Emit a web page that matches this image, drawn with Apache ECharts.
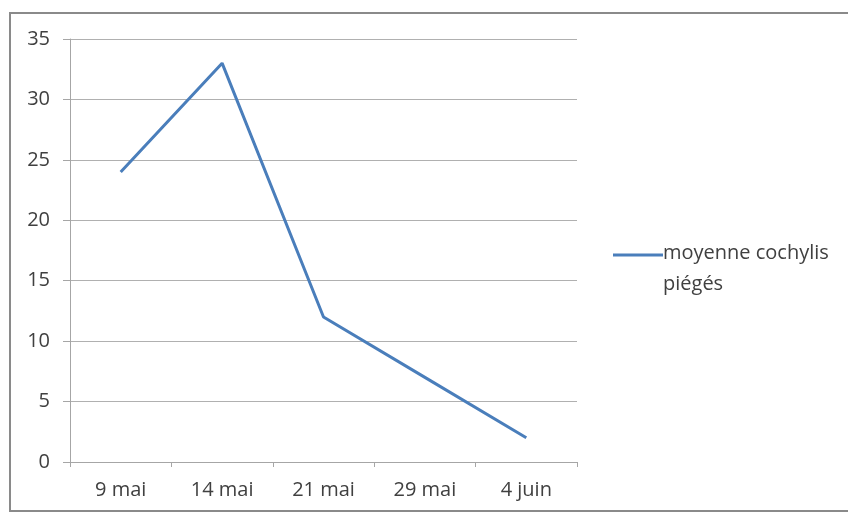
<!DOCTYPE html>
<html><head><meta charset="utf-8">
<script src="https://cdn.jsdelivr.net/npm/echarts@6/dist/echarts.min.js"></script>
<style>html,body{margin:0;padding:0;background:#fff}#c{width:848px;height:515px}</style>
</head><body><div id="c"></div>
<script>
const categories = ['9 mai', '14 mai', '21 mai', '29 mai', '4 juin'];
const seriesName = 'moyenne cochylis\npiégés';
const values = [24, 33, 12, 7, 2];
const yTicks = { min: 0, max: 35, interval: 5 };

const chart = echarts.init(document.getElementById('c'));
const font = 'Open Sans';
chart.setOption({
  animation: false,
  backgroundColor: '#fff',
  graphic: [{
    type: 'rect', shape: { x: 10, y: 13, width: 850, height: 498 },
    style: { fill: 'none', stroke: '#8a8a8a', lineWidth: 2 }, silent: true
  }],
  grid: { left: 70, right: 271, top: 39, bottom: 53, containLabel: false },
  legend: {
    left: 608, top: 233, orient: 'vertical',
    itemWidth: 50, itemHeight: 31,
    icon: 'path://M0,15L50,15L50,18L0,18Z M0,46L0,46',
    itemGap: 0,
    formatter: () => seriesName,
    textStyle: { fontFamily: font, fontSize: 20, color: '#404040', lineHeight: 31, padding: [0, 0, 0, -5] },
    data: [seriesName]
  },
  xAxis: {
    type: 'category', data: categories, boundaryGap: true,
    axisLine: { lineStyle: { color: '#a6a6a6', width: 1 } },
    axisTick: { show: true, length: 5, inside: false, alignWithLabel: false, lineStyle: { color: '#a6a6a6' } },
    axisLabel: { fontFamily: font, fontSize: 20, color: '#404040', margin: 18 },
    splitLine: { show: false }
  },
  yAxis: {
    type: 'value', min: yTicks.min, max: yTicks.max, interval: yTicks.interval,
    axisLine: { show: true, lineStyle: { color: '#a6a6a6', width: 1 } },
    axisTick: { show: true, length: 7, lineStyle: { color: '#a6a6a6' } },
    axisLabel: { fontFamily: font, fontSize: 20, color: '#404040', margin: 20 },
    splitLine: { show: true, lineStyle: { color: '#b0b0b0', width: 1 } }
  },
  series: [{
    name: seriesName, type: 'line', data: values,
    symbol: 'none', smooth: false,
    lineStyle: { color: '#4a7ebb', width: 3 },
    itemStyle: { color: '#4a7ebb' }
  }]
});
</script></body></html>
